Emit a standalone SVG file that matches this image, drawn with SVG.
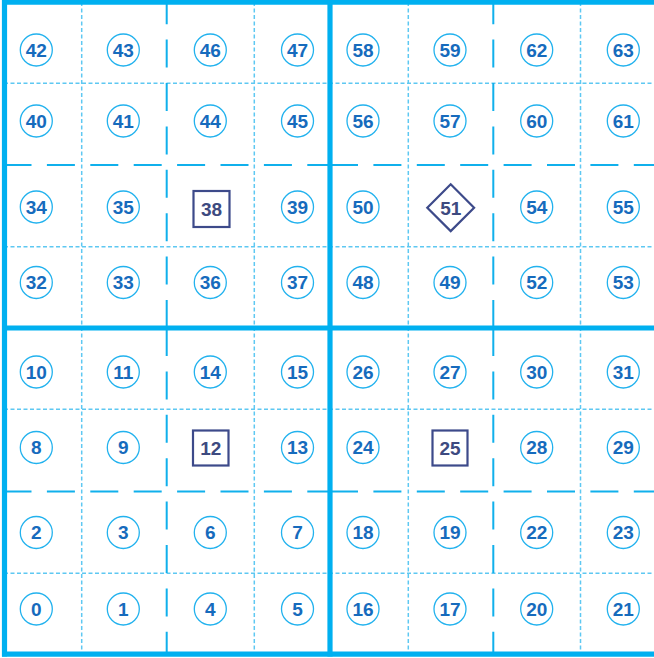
<svg xmlns="http://www.w3.org/2000/svg" width="654" height="658" viewBox="0 0 654 658">
<style>
.fine{stroke:#5ec8f2;stroke-width:1.5;stroke-dasharray:4 2.5;fill:none}
.dash{stroke:#10b0ec;stroke-width:2;stroke-dasharray:28 15.4;fill:none}
.thick{stroke:#00b0f0;stroke-width:5.2;fill:none}
.c circle{fill:#fff;stroke:#22b2ee;stroke-width:1.3}
.c text,.s text{font-family:"Liberation Sans",Arial,sans-serif;font-weight:bold;font-size:19px;text-anchor:middle}
.c text{fill:#166bbd}
.s rect,.s polygon{fill:#fff;stroke:#3d4a8a;stroke-width:2.2}
.s text{fill:#3d4a80}
</style>
<rect width="654" height="658" fill="#fff"/>
<g id="grid">
<line class="fine" x1="81.7" y1="2" x2="81.7" y2="654"/>
<line class="fine" x1="254.3" y1="2" x2="254.3" y2="654"/>
<line class="fine" x1="408.3" y1="2" x2="408.3" y2="654"/>
<line class="fine" x1="580.5" y1="2" x2="580.5" y2="654"/>
<line class="fine" x1="4" y1="83.3" x2="654" y2="83.3"/>
<line class="fine" x1="4" y1="246.7" x2="654" y2="246.7"/>
<line class="fine" x1="4" y1="409.3" x2="654" y2="409.3"/>
<line class="fine" x1="4" y1="573.3" x2="654" y2="573.3"/>
<line class="dash" x1="166.7" y1="328" x2="166.7" y2="0"/>
<line class="dash" x1="493.3" y1="328" x2="493.3" y2="0"/>
<line class="dash" x1="166.7" y1="328" x2="166.7" y2="656"/>
<line class="dash" x1="493.3" y1="328" x2="493.3" y2="656"/>
<line class="dash" x1="3.5" y1="165" x2="330" y2="165"/>
<line class="dash" x1="330" y1="165" x2="656" y2="165"/>
<line class="dash" x1="3.5" y1="491.5" x2="330" y2="491.5"/>
<line class="dash" x1="330" y1="491.5" x2="656" y2="491.5"/>
<line class="thick" x1="4.5" y1="0" x2="4.5" y2="656.6"/>
<line class="thick" x1="2" y1="2.2" x2="654" y2="2.2"/>
<line class="thick" x1="2" y1="654.2" x2="654" y2="654.2"/>
<line class="thick" x1="330" y1="0" x2="330" y2="656.6"/>
<line class="thick" x1="2" y1="328" x2="654" y2="328"/>
</g>
<g id="connectors"/>
<g id="n42" class="c"><circle cx="36.3" cy="50" r="16"/><text x="36.3" y="56.8">42</text></g>
<g id="n43" class="c"><circle cx="123.3" cy="50" r="16"/><text x="123.3" y="56.8">43</text></g>
<g id="n46" class="c"><circle cx="210.3" cy="50" r="16"/><text x="210.3" y="56.8">46</text></g>
<g id="n47" class="c"><circle cx="297.5" cy="50" r="16"/><text x="297.5" y="56.8">47</text></g>
<g id="n58" class="c"><circle cx="363" cy="50" r="16"/><text x="363" y="56.8">58</text></g>
<g id="n59" class="c"><circle cx="450" cy="50" r="16"/><text x="450" y="56.8">59</text></g>
<g id="n62" class="c"><circle cx="536.7" cy="50" r="16"/><text x="536.7" y="56.8">62</text></g>
<g id="n63" class="c"><circle cx="623.3" cy="50" r="16"/><text x="623.3" y="56.8">63</text></g>
<g id="n40" class="c"><circle cx="36.3" cy="121" r="16"/><text x="36.3" y="127.8">40</text></g>
<g id="n41" class="c"><circle cx="123.3" cy="121" r="16"/><text x="123.3" y="127.8">41</text></g>
<g id="n44" class="c"><circle cx="210.3" cy="121" r="16"/><text x="210.3" y="127.8">44</text></g>
<g id="n45" class="c"><circle cx="297.5" cy="121" r="16"/><text x="297.5" y="127.8">45</text></g>
<g id="n56" class="c"><circle cx="363" cy="121" r="16"/><text x="363" y="127.8">56</text></g>
<g id="n57" class="c"><circle cx="450" cy="121" r="16"/><text x="450" y="127.8">57</text></g>
<g id="n60" class="c"><circle cx="536.7" cy="121" r="16"/><text x="536.7" y="127.8">60</text></g>
<g id="n61" class="c"><circle cx="623.3" cy="121" r="16"/><text x="623.3" y="127.8">61</text></g>
<g id="n34" class="c"><circle cx="36.3" cy="207" r="16"/><text x="36.3" y="213.8">34</text></g>
<g id="n35" class="c"><circle cx="123.3" cy="207" r="16"/><text x="123.3" y="213.8">35</text></g>
<g id="n38" class="s"><rect x="193.5" y="191" width="36" height="36"/><text x="211.5" y="215.8">38</text></g>
<g id="n39" class="c"><circle cx="297.5" cy="207" r="16"/><text x="297.5" y="213.8">39</text></g>
<g id="n50" class="c"><circle cx="363" cy="207" r="16"/><text x="363" y="213.8">50</text></g>
<g id="n51" class="s"><polygon points="450.7,184.3 474.1,207.7 450.7,231.1 427.3,207.7"/><text x="450.7" y="214.5">51</text></g>
<g id="n54" class="c"><circle cx="536.7" cy="207" r="16"/><text x="536.7" y="213.8">54</text></g>
<g id="n55" class="c"><circle cx="623.3" cy="207" r="16"/><text x="623.3" y="213.8">55</text></g>
<g id="n32" class="c"><circle cx="36.3" cy="282.5" r="16"/><text x="36.3" y="289.3">32</text></g>
<g id="n33" class="c"><circle cx="123.3" cy="282.5" r="16"/><text x="123.3" y="289.3">33</text></g>
<g id="n36" class="c"><circle cx="210.3" cy="282.5" r="16"/><text x="210.3" y="289.3">36</text></g>
<g id="n37" class="c"><circle cx="297.5" cy="282.5" r="16"/><text x="297.5" y="289.3">37</text></g>
<g id="n48" class="c"><circle cx="363" cy="282.5" r="16"/><text x="363" y="289.3">48</text></g>
<g id="n49" class="c"><circle cx="450" cy="282.5" r="16"/><text x="450" y="289.3">49</text></g>
<g id="n52" class="c"><circle cx="536.7" cy="282.5" r="16"/><text x="536.7" y="289.3">52</text></g>
<g id="n53" class="c"><circle cx="623.3" cy="282.5" r="16"/><text x="623.3" y="289.3">53</text></g>
<g id="n10" class="c"><circle cx="36.3" cy="372" r="16"/><text x="36.3" y="378.8">10</text></g>
<g id="n11" class="c"><circle cx="123.3" cy="372" r="16"/><text x="123.3" y="378.8">11</text></g>
<g id="n14" class="c"><circle cx="210.3" cy="372" r="16"/><text x="210.3" y="378.8">14</text></g>
<g id="n15" class="c"><circle cx="297.5" cy="372" r="16"/><text x="297.5" y="378.8">15</text></g>
<g id="n26" class="c"><circle cx="363" cy="372" r="16"/><text x="363" y="378.8">26</text></g>
<g id="n27" class="c"><circle cx="450" cy="372" r="16"/><text x="450" y="378.8">27</text></g>
<g id="n30" class="c"><circle cx="536.7" cy="372" r="16"/><text x="536.7" y="378.8">30</text></g>
<g id="n31" class="c"><circle cx="623.3" cy="372" r="16"/><text x="623.3" y="378.8">31</text></g>
<g id="n8" class="c"><circle cx="36.3" cy="447.5" r="16"/><text x="36.3" y="454.3">8</text></g>
<g id="n9" class="c"><circle cx="123.3" cy="447.5" r="16"/><text x="123.3" y="454.3">9</text></g>
<g id="n12" class="s"><rect x="193" y="430.5" width="35.5" height="35"/><text x="210.8" y="454.8">12</text></g>
<g id="n13" class="c"><circle cx="297.5" cy="447.5" r="16"/><text x="297.5" y="454.3">13</text></g>
<g id="n24" class="c"><circle cx="363" cy="447.5" r="16"/><text x="363" y="454.3">24</text></g>
<g id="n25" class="s"><rect x="432.5" y="430.5" width="35" height="35"/><text x="450" y="454.8">25</text></g>
<g id="n28" class="c"><circle cx="536.7" cy="447.5" r="16"/><text x="536.7" y="454.3">28</text></g>
<g id="n29" class="c"><circle cx="623.3" cy="447.5" r="16"/><text x="623.3" y="454.3">29</text></g>
<g id="n2" class="c"><circle cx="36.3" cy="532.5" r="16"/><text x="36.3" y="539.3">2</text></g>
<g id="n3" class="c"><circle cx="123.3" cy="532.5" r="16"/><text x="123.3" y="539.3">3</text></g>
<g id="n6" class="c"><circle cx="210.3" cy="532.5" r="16"/><text x="210.3" y="539.3">6</text></g>
<g id="n7" class="c"><circle cx="297.5" cy="532.5" r="16"/><text x="297.5" y="539.3">7</text></g>
<g id="n18" class="c"><circle cx="363" cy="532.5" r="16"/><text x="363" y="539.3">18</text></g>
<g id="n19" class="c"><circle cx="450" cy="532.5" r="16"/><text x="450" y="539.3">19</text></g>
<g id="n22" class="c"><circle cx="536.7" cy="532.5" r="16"/><text x="536.7" y="539.3">22</text></g>
<g id="n23" class="c"><circle cx="623.3" cy="532.5" r="16"/><text x="623.3" y="539.3">23</text></g>
<g id="n0" class="c"><circle cx="36.3" cy="609" r="16"/><text x="36.3" y="615.8">0</text></g>
<g id="n1" class="c"><circle cx="123.3" cy="609" r="16"/><text x="123.3" y="615.8">1</text></g>
<g id="n4" class="c"><circle cx="210.3" cy="609" r="16"/><text x="210.3" y="615.8">4</text></g>
<g id="n5" class="c"><circle cx="297.5" cy="609" r="16"/><text x="297.5" y="615.8">5</text></g>
<g id="n16" class="c"><circle cx="363" cy="609" r="16"/><text x="363" y="615.8">16</text></g>
<g id="n17" class="c"><circle cx="450" cy="609" r="16"/><text x="450" y="615.8">17</text></g>
<g id="n20" class="c"><circle cx="536.7" cy="609" r="16"/><text x="536.7" y="615.8">20</text></g>
<g id="n21" class="c"><circle cx="623.3" cy="609" r="16"/><text x="623.3" y="615.8">21</text></g>
</svg>
